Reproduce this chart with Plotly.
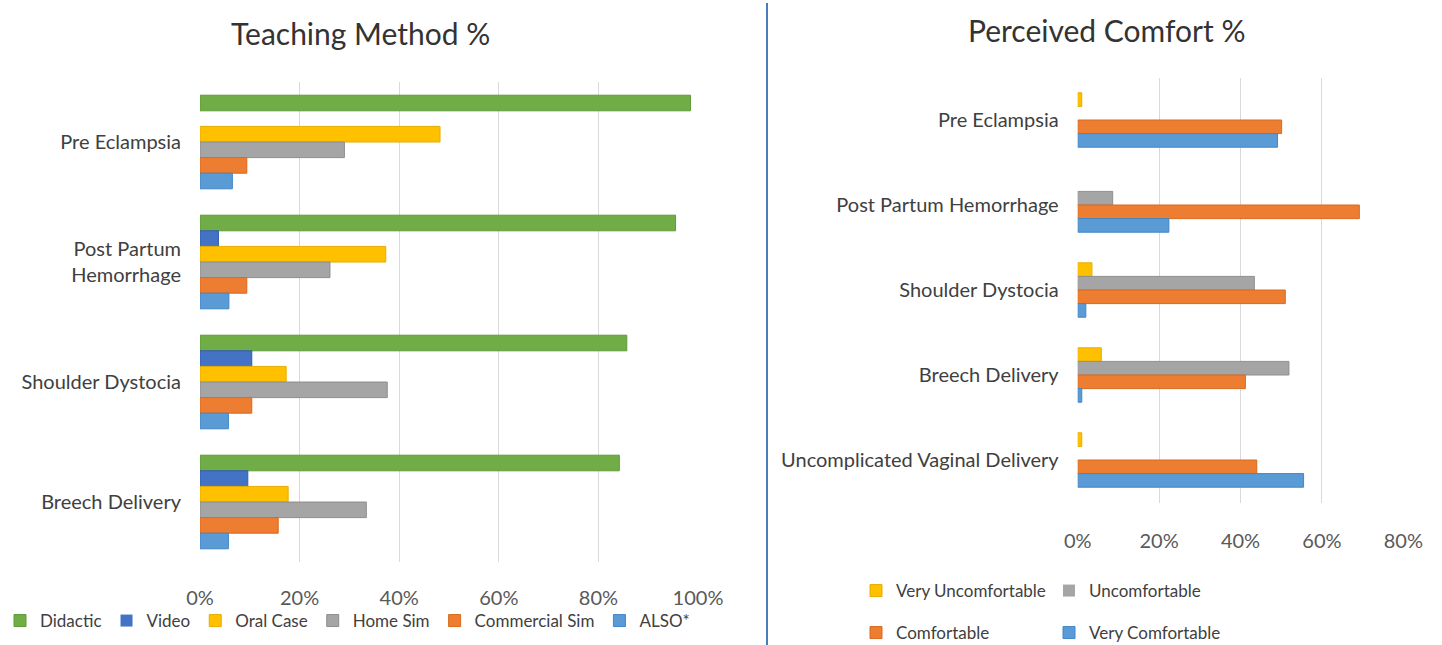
import plotly.graph_objects as go

# ---------------- data ----------------
teach_categories = ["Pre Eclampsia", "Post Partum<br>Hemorrhage", "Shoulder Dystocia", "Breech Delivery"]
teach_series = ["Didactic", "Video", "Oral Case", "Home Sim", "Commercial Sim", "ALSO*"]
didactic = [0.985, 0.955, 0.857, 0.842]
video = [0.0, 0.037, 0.104, 0.096]
oral_case = [0.482, 0.373, 0.173, 0.177]
home_sim = [0.290, 0.261, 0.376, 0.334]
commercial_sim = [0.094, 0.094, 0.104, 0.157]
also = [0.065, 0.058, 0.057, 0.057]

comfort_categories = ["Pre Eclampsia", "Post Partum Hemorrhage", "Shoulder Dystocia",
                      "Breech Delivery", "Uncomplicated Vaginal Delivery"]
comfort_series = ["Very Uncomfortable", "Uncomfortable", "Comfortable", "Very Comfortable"]
very_uncomfortable = [0.010, 0.0, 0.035, 0.058, 0.010]
uncomfortable = [0.0, 0.086, 0.434, 0.519, 0.0]
comfortable = [0.501, 0.692, 0.510, 0.412, 0.440]
very_comfortable = [0.491, 0.224, 0.020, 0.010, 0.555]

teach_x_ticks = [0, 0.2, 0.4, 0.6, 0.8, 1.0]
comfort_x_ticks = [0, 0.2, 0.4, 0.6, 0.8]

# ---------------- styles ----------------
FONT = "Lato"
teach_colors = ["#70AD47", "#4472C4", "#FFC000", "#A5A5A5", "#ED7D31", "#5B9BD5"]
teach_lines = ["#5E9A38", "#2F5FB3", "#E6AD00", "#8E8E8E", "#D96A1E", "#3F86C9"]
comfort_colors = ["#FFC000", "#A5A5A5", "#ED7D31", "#5B9BD5"]
comfort_lines = ["#E6AD00", "#8E8E8E", "#D96A1E", "#3F86C9"]

W, H = 1442, 645
fig = go.Figure()


def outline_widths(vals):
    return [1 if v > 0 else 0 for v in vals]


teach_values = [didactic, video, oral_case, home_sim, commercial_sim, also]
for name, vals, c, lc in zip(teach_series, teach_values, teach_colors, teach_lines):
    fig.add_trace(go.Bar(
        x=vals, y=teach_categories, orientation="h", name=name,
        marker=dict(color=c, line=dict(color=lc, width=outline_widths(vals))),
        xaxis="x", yaxis="y", legend="legend",
    ))

comfort_values = [very_uncomfortable, uncomfortable, comfortable, very_comfortable]
bw = 0.16
for i, (name, vals, c, lc) in enumerate(zip(comfort_series, comfort_values, comfort_colors, comfort_lines)):
    fig.add_trace(go.Bar(
        x=vals, y=comfort_categories, orientation="h", name=name,
        marker=dict(color=c, line=dict(color=lc, width=outline_widths(vals))),
        width=bw, offset=-2 * bw + i * bw,
        xaxis="x2", yaxis="y2", legend="legend2" if i < 2 else "legend3",
    ))

tick_font = dict(family=FONT, size=20, color="#595959")
cat_font = dict(family=FONT, size=20, color="#404040")
leg_font = dict(family=FONT, size=17, color="#404040")
grid = "#D9D9D9"

fig.update_layout(
    width=W, height=H,
    margin=dict(l=0, r=0, t=0, b=0, autoexpand=False),
    paper_bgcolor="white", plot_bgcolor="white",
    barmode="group", bargap=0.22, bargroupgap=0,
    font=dict(family=FONT, color="#404040"),
    xaxis=dict(domain=[200 / W, 698 / W], range=[0, 1.0], tickvals=teach_x_ticks,
               tickformat=".0%", showgrid=True, gridcolor=grid, gridwidth=1,
               zeroline=False, showline=False, ticks="", tickfont=tick_font,
               ticklabelstandoff=22, anchor="y", automargin=False),
    yaxis=dict(domain=[1 - 562 / H, 1 - 82 / H], type="category",
               categoryorder="array", categoryarray=teach_categories,
               range=[3.5, -0.5], showgrid=False, zeroline=False, showline=False,
               ticks="", tickfont=cat_font, ticklabelstandoff=18, anchor="x", automargin=False),
    xaxis2=dict(domain=[1077.7 / W, 1403.3 / W], range=[0, 0.8], tickvals=comfort_x_ticks,
                tickformat=".0%", showgrid=True, gridcolor=grid, gridwidth=1,
                zeroline=False, showline=False, ticks="", tickfont=tick_font,
                ticklabelstandoff=24, anchor="y2", automargin=False),
    yaxis2=dict(domain=[1 - 502.5 / H, 1 - 77.5 / H], type="category",
                categoryorder="array", categoryarray=comfort_categories,
                range=[4.5, -0.5], showgrid=False, zeroline=False, showline=False,
                ticks="", tickfont=cat_font, ticklabelstandoff=18, anchor="x2", automargin=False),
    legend=dict(orientation="h", x=0, xanchor="left", y=1 - 621 / H, yanchor="middle",
                font=leg_font, itemwidth=30,
                bgcolor="rgba(0,0,0,0)", traceorder="normal"),
    legend2=dict(orientation="h", x=856 / W, xanchor="left", y=1 - 591 / H, yanchor="middle",
                 font=leg_font, itemwidth=30,
                 entrywidth=148, bgcolor="rgba(0,0,0,0)", traceorder="normal"),
    legend3=dict(orientation="h", x=856 / W, xanchor="left", y=1 - 633 / H, yanchor="middle",
                 font=leg_font, itemwidth=30,
                 entrywidth=148, bgcolor="rgba(0,0,0,0)", traceorder="normal"),
    showlegend=True,
)

fig.add_annotation(text="Teaching Method %", x=360 / W, y=1 - 33 / H, xref="paper", yref="paper",
                   showarrow=False, xanchor="center", yanchor="middle",
                   font=dict(family=FONT, size=30, color="#333333"))
fig.add_annotation(text="Perceived Comfort %", x=1106 / W, y=1 - 30 / H, xref="paper", yref="paper",
                   showarrow=False, xanchor="center", yanchor="middle",
                   font=dict(family=FONT, size=30, color="#333333"))

fig.add_shape(type="line", xref="paper", yref="paper", x0=767 / W, x1=767 / W, y0=0, y1=1 - 3 / H,
              line=dict(color="#4A7EBB", width=2))

fig.write_html("out.html", config={"displayModeBar": False},
               post_script="document.body.style.margin='0px';document.body.style.overflow='hidden';")
